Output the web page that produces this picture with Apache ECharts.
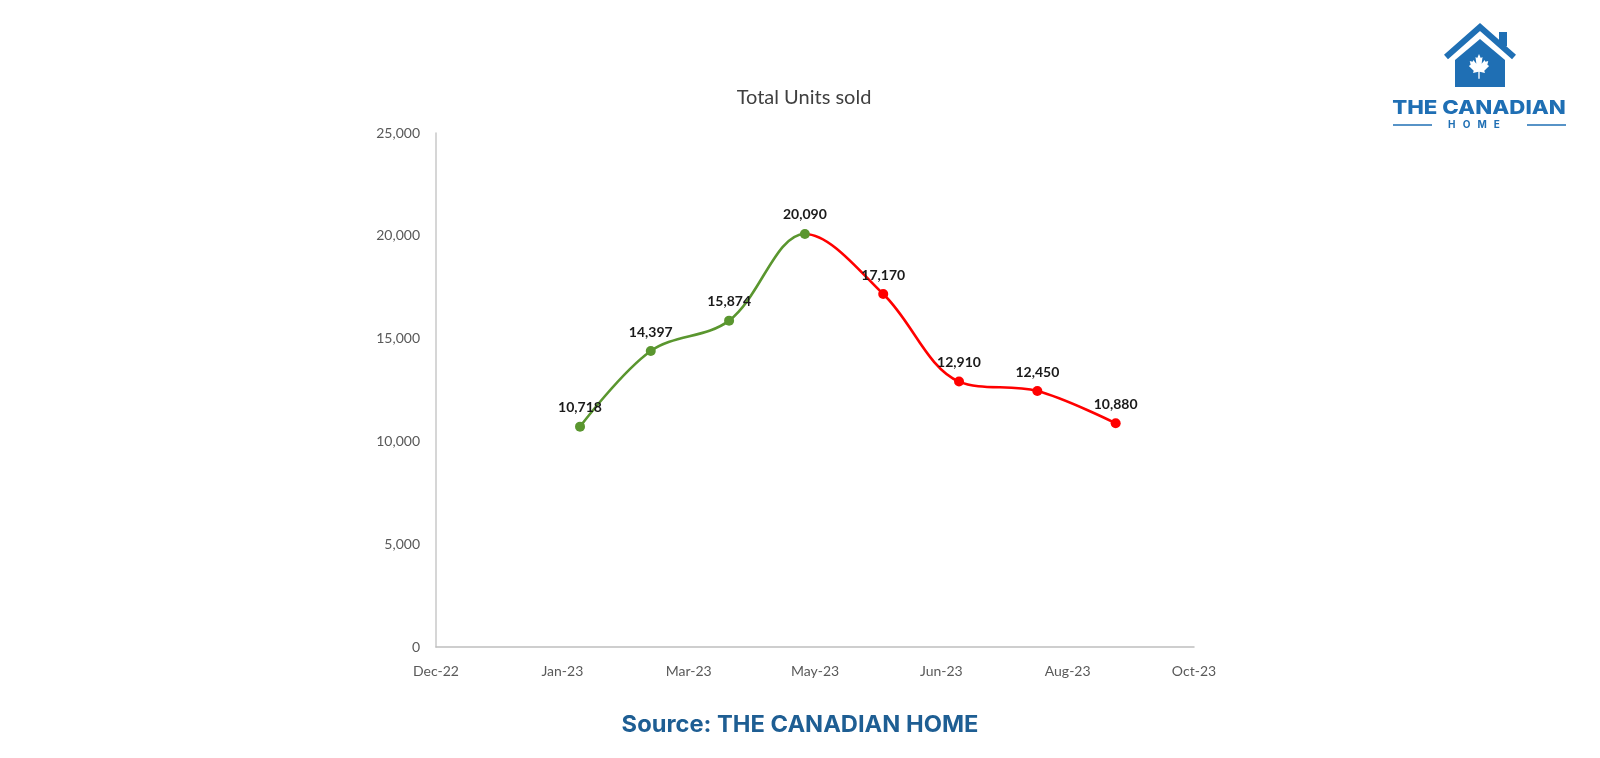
<!DOCTYPE html>
<html>
<head>
<meta charset="utf-8">
<script src="https://cdn.jsdelivr.net/npm/echarts@6/dist/echarts.min.js"></script>
<style>
html,body{margin:0;padding:0;background:#fff;}
#chart{width:1600px;height:758px;}
</style>
</head>
<body>
<div id="chart"></div>
<script>
// ---- data ----
var monthEndDates = ['2023-01-31','2023-02-28','2023-03-31','2023-04-30','2023-05-31','2023-06-30','2023-07-31','2023-08-31'];
var unitsSold = [10718, 14397, 15874, 20090, 17170, 12910, 12450, 10880];
var xTickLabels = ['Dec-22','Jan-23','Mar-23','May-23','Jun-23','Aug-23','Oct-23'];
var peakDate = '2023-04-30';   // green up to and including this date, red after
var yTickMax = 25000;
var yTickStep = 5000;

// Excel-style serial day numbers (days since 1899-12-30)
function serial(s){
  var p = s.split('-');
  return Math.round((Date.UTC(+p[0], +p[1]-1, +p[2]) - Date.UTC(1899, 11, 30)) / 86400000);
}
var xMin = 44900, xStep = 50, xMax = xMin + xStep * (xTickLabels.length - 1);
var seriesData = monthEndDates.map(function(d, i){ return [serial(d), unitsSold[i]]; });
var peakSerial = serial(peakDate);

var GREEN = '#5A962F', RED = '#FF0000', BLUE = '#1F6FB4';
var fmt = function(v){ return Number(v).toLocaleString('en-US'); };

// maple leaf outline in a 100x92 box (logo decoration)
var leafPts = [[50,0],[58,15],[66,11],[62,36],[76,22],[79,29],[92,26],[88,40],[96,44],[74,62],[77,70],[53,66],[53,92],[47,92],[47,66],[23,70],[26,62],[4,44],[12,40],[8,26],[21,29],[24,22],[38,36],[34,11],[42,15]];

var chart = echarts.init(document.getElementById('chart'), null, {renderer:'canvas'});
chart.setOption({
  backgroundColor:'#ffffff',
  animation:false,
  title:{
    text:'Total Units sold',
    left:799, top:83, textAlign:'center',
    textStyle:{fontFamily:'Lato', fontSize:20, fontWeight:'normal', color:'#404040'}
  },
  grid:{left:436, right:406, top:133, bottom:111, containLabel:false},
  xAxis:{
    type:'value', min:xMin, max:xMax, interval:xStep,
    axisLine:{show:true, lineStyle:{color:'#BFBFBF', width:1.5}},
    axisTick:{show:false},
    splitLine:{show:false},
    axisLabel:{
      margin:17, color:'#595959', fontFamily:'Lato', fontSize:14,
      formatter:function(v){ var i = Math.round((v - xMin) / xStep); return xTickLabels[i] || ''; }
    }
  },
  yAxis:{
    type:'value', min:0, max:yTickMax, interval:yTickStep,
    axisLine:{show:true, lineStyle:{color:'#C8C8C8', width:1.5}},
    axisTick:{show:false},
    splitLine:{show:false},
    axisLabel:{margin:16, color:'#595959', fontFamily:'Lato', fontSize:14, formatter:fmt}
  },
  series:[{
    type:'line', smooth:0.35, data:seriesData,
    symbol:'circle', symbolSize:10, showAllSymbol:true,
    lineStyle:{width:2.6, color:GREEN},
    itemStyle:{color:function(p){ return p.value[0] <= peakSerial ? GREEN : RED; }},
    label:{show:true, position:'top', distance:7, fontFamily:'Lato', fontWeight:'bold', fontSize:14, color:'#1a1a1a',
      formatter:function(p){ return fmt(p.value[1]); }}
  }],
  graphic:[
    // logo: roof chevron
    {type:'polyline', shape:{points:[[1446,57],[1480,27],[1514,57]]}, style:{stroke:BLUE, lineWidth:6, fill:null, lineJoin:'miter'}},
    // chimney
    {type:'rect', shape:{x:1499, y:32, width:8, height:14}, style:{fill:BLUE}},
    // house body
    {type:'polygon', shape:{points:[[1455,87],[1455,60],[1480,39],[1505,60],[1505,87]]}, style:{fill:BLUE}},
    // maple leaf
    {type:'polygon', x:1468, y:54, scaleX:0.22, scaleY:0.27, shape:{points:leafPts}, style:{fill:'#ffffff'}},
    {type:'text', x:1479, y:108, scaleX:1.17, style:{text:'THE CANADIAN', x:0, y:0, align:'center', verticalAlign:'middle', fill:BLUE, font:'800 19px Inter'}},
    {type:'text', style:{text:'H   O   M   E', x:1474, y:125, align:'center', verticalAlign:'middle', fill:BLUE, font:'700 10px Inter'}},
    {type:'line', shape:{x1:1393, y1:125, x2:1432, y2:125}, style:{stroke:BLUE, lineWidth:1.5}},
    {type:'line', shape:{x1:1527, y1:125, x2:1566, y2:125}, style:{stroke:BLUE, lineWidth:1.5}},
    // source
    {type:'text', x:800, y:725, scaleX:1.03, style:{text:'Source: THE CANADIAN HOME', x:0, y:0, align:'center', verticalAlign:'middle', fill:'#1E5E93', font:'700 23px Inter'}}
  ]
});

// colour the line green up to the peak and red after it, switching at the peak's pixel position
var peakPx = chart.convertToPixel({xAxisIndex:0}, peakSerial);
var W = chart.getWidth();
var off = peakPx / W;
chart.setOption({series:[{lineStyle:{color:{
  type:'linear', x:0, y:0, x2:W, y2:0, global:true,
  colorStops:[{offset:0, color:GREEN},{offset:off, color:GREEN},{offset:off, color:RED},{offset:1, color:RED}]
}}}]});
</script>
</body>
</html>
